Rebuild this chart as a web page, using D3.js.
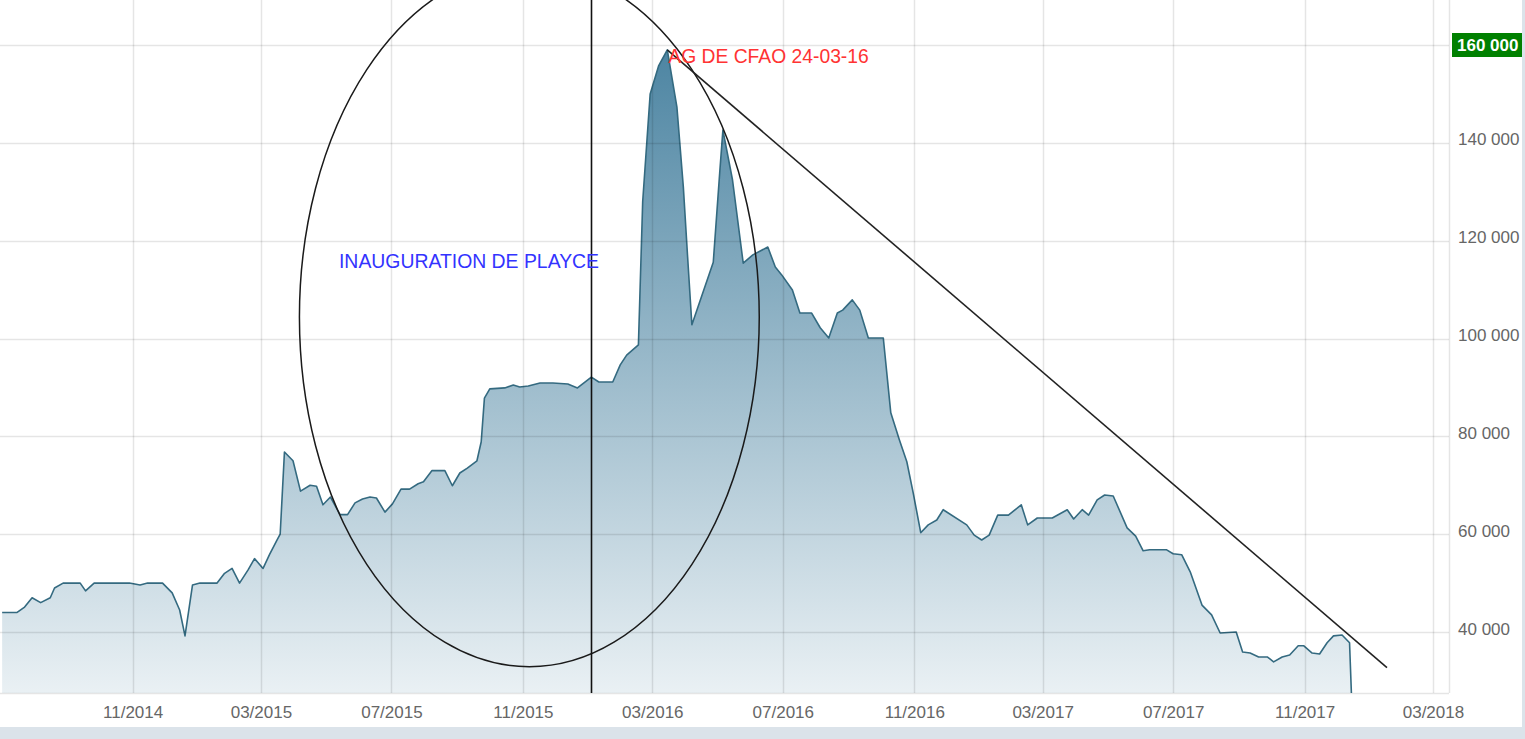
<!DOCTYPE html>
<html><head><meta charset="utf-8">
<script src="https://cdn.jsdelivr.net/npm/d3@7"></script>
<style>html,body{margin:0;padding:0;background:#dbe3ea;} svg{display:block;}</style>
</head><body><svg id="chart" width="1525" height="739"></svg>
<script>
// ---- data ----
const dates = ["2014-07-02","2014-07-16","2014-07-23","2014-07-30","2014-08-07","2014-08-16","2014-08-20","2014-08-28","2014-09-13","2014-09-18","2014-09-26","2014-10-29","2014-11-08","2014-11-15","2014-11-29","2014-12-08","2014-12-15","2014-12-20","2014-12-27","2015-01-03","2015-01-19","2015-01-26","2015-02-02","2015-02-09","2015-02-17","2015-02-23","2015-03-03","2015-03-09","2015-03-16","2015-03-19","2015-03-23","2015-03-31","2015-04-07","2015-04-16","2015-04-22","2015-04-28","2015-05-05","2015-05-14","2015-05-21","2015-05-28","2015-06-04","2015-06-11","2015-06-17","2015-06-25","2015-07-02","2015-07-10","2015-07-18","2015-07-26","2015-07-31","2015-08-08","2015-08-20","2015-08-27","2015-09-03","2015-09-10","2015-09-19","2015-09-23","2015-09-26","2015-10-01","2015-10-15","2015-10-23","2015-10-29","2015-11-06","2015-11-17","2015-11-29","2015-12-13","2015-12-22","2016-01-04","2016-01-11","2016-01-24","2016-01-31","2016-02-06","2016-02-17","2016-02-21","2016-02-28","2016-03-07","2016-03-15","2016-03-24","2016-03-30","2016-04-03","2016-04-07","2016-04-27","2016-05-03","2016-05-06","2016-05-15","2016-05-25","2016-06-03","2016-06-17","2016-06-24","2016-06-30","2016-07-10","2016-07-17","2016-07-28","2016-08-05","2016-08-13","2016-08-21","2016-08-26","2016-09-04","2016-09-11","2016-09-19","2016-10-03","2016-10-10","2016-10-18","2016-10-25","2016-10-31","2016-11-07","2016-11-14","2016-11-22","2016-11-28","2016-12-20","2016-12-27","2017-01-03","2017-01-10","2017-01-18","2017-01-28","2017-02-09","2017-02-15","2017-02-24","2017-03-10","2017-03-24","2017-03-30","2017-04-07","2017-04-13","2017-04-21","2017-04-28","2017-05-06","2017-05-19","2017-05-27","2017-06-03","2017-06-09","2017-06-25","2017-07-01","2017-07-09","2017-07-17","2017-07-28","2017-08-06","2017-08-14","2017-08-29","2017-09-04","2017-09-11","2017-09-19","2017-09-27","2017-10-03","2017-10-11","2017-10-18","2017-10-26","2017-10-31","2017-11-08","2017-11-15","2017-11-22","2017-11-28","2017-12-06","2017-12-13","2017-12-16"];
const prices = [44000,44000,45100,47000,46000,47000,49000,50000,50000,48400,50000,50000,49600,50000,50000,48000,44500,39200,49600,50000,50000,52000,53000,50000,52700,55000,53000,55800,58800,60000,76800,75000,68800,70000,69800,66000,67600,64000,64000,66400,67200,67600,67400,64500,66200,69200,69200,70300,70700,73000,73000,69900,72500,73500,75000,78900,87800,89700,89900,90500,90100,90300,90900,90900,90700,89900,92100,91100,91100,94600,96600,98700,128000,150000,155800,159000,147300,131000,116700,102800,115600,133800,142600,132400,115400,117100,118700,114600,113000,109900,105200,105200,102200,100100,105200,105800,107900,105800,100100,100100,84800,79300,74800,68400,60300,61900,62900,65000,61900,59800,58800,59800,63900,63900,66000,61900,63300,63300,65000,63100,65000,63900,67000,68000,67800,61300,59600,56600,56800,56800,56000,55800,52300,45500,43500,39800,40000,35900,35700,34900,34900,33900,34900,35300,37200,37200,35700,35500,37800,39200,39400,37800,20000];

const xTickDates = ["2014-11-01","2015-03-01","2015-07-01","2015-11-01","2016-03-01","2016-07-01","2016-11-01","2017-03-01","2017-07-01","2017-11-01","2018-03-01"];
const yTickValues = [40000,60000,80000,100000,120000,140000];
const highlightValue = 160000;
const xDomain = ["2014-06-30","2018-03-16"];
const yDomain = [27530,169200];

// annotations (in data space)
const eventDate = "2016-01-04";
const trendStart = {date:"2016-03-15", value:159000};
const trendEnd = {date:"2018-01-17", value:32700};
const ellipseCenter = {date:"2015-11-07", value:104400};
const ellipseRadiusDays = 215;
const ellipseRadiusValue = 71500;
const agLabel = {text:"AG DE CFAO 24-03-16", date:"2016-03-16", value:156300};
const inaugLabel = {text:"INAUGURATION DE PLAYCE", date:"2015-05-13", value:114400};

// ---- chart ----
const parse = d3.utcParse("%Y-%m-%d");
const data = dates.map((d,i)=>({date:parse(d), value:prices[i]}));
const W = 1525, H = 739;
const plotW = 1449, plotH = 693;
const svg = d3.select("#chart");
const font = "'Liberation Sans', Arial, sans-serif";

svg.append("rect").attr("x",0).attr("y",0).attr("width",W).attr("height",H).attr("fill","#dbe3ea");
svg.append("rect").attr("x",0).attr("y",0).attr("width",1522).attr("height",727).attr("fill","#ffffff");

const x = d3.scaleUtc().domain(xDomain.map(parse)).range([0, plotW]);
const y = d3.scaleLinear().domain(yDomain).range([plotH, 0]);

const defs = svg.append("defs");
const grad = defs.append("linearGradient").attr("id","areaGrad")
  .attr("gradientUnits","userSpaceOnUse").attr("x1",0).attr("x2",0).attr("y1",0).attr("y2",plotH);
grad.append("stop").attr("offset","0%").attr("stop-color","#3d7a9a").attr("stop-opacity",0.98);
grad.append("stop").attr("offset","100%").attr("stop-color","#3d7a9a").attr("stop-opacity",0.11);
defs.append("clipPath").attr("id","plotClip").append("rect")
  .attr("x",0).attr("y",0).attr("width",plotW).attr("height",plotH);

const plot = svg.append("g");

const area = d3.area().x(d=>x(d.date)).y0(plotH).y1(d=>y(d.value)).curve(d3.curveLinear);
const line = d3.line().x(d=>x(d.date)).y(d=>y(d.value)).curve(d3.curveLinear);
const clipped = plot.append("g").attr("clip-path","url(#plotClip)");
clipped.append("path").datum(data).attr("d",area).attr("fill","url(#areaGrad)");

// grid
const gridColor = "rgba(0,0,0,0.1)";
const grid = plot.append("g");
grid.selectAll("line.h").data(yTickValues.concat([highlightValue])).join("line")
  .attr("x1",0).attr("x2",plotW).attr("y1",d=>Math.round(y(d))+0.5).attr("y2",d=>Math.round(y(d))+0.5)
  .attr("stroke",gridColor).attr("stroke-width",1.5);
grid.selectAll("line.v").data(xTickDates.map(parse)).join("line")
  .attr("y1",0).attr("y2",plotH).attr("x1",d=>Math.round(x(d))+0.5).attr("x2",d=>Math.round(x(d))+0.5)
  .attr("stroke",gridColor).attr("stroke-width",1.5);
grid.append("line").attr("x1",plotW+0.5).attr("x2",plotW+0.5).attr("y1",0).attr("y2",plotH).attr("stroke",gridColor).attr("stroke-width",1.5);
grid.append("line").attr("x1",0).attr("x2",plotW).attr("y1",plotH+0.5).attr("y2",plotH+0.5).attr("stroke",gridColor).attr("stroke-width",1.5);

clipped.append("path").datum(data).attr("d",line).attr("fill","none")
  .attr("stroke","#346a80").attr("stroke-width",1.6).attr("stroke-linejoin","round");

// x axis labels
const xAxis = d3.axisBottom(x).tickValues(xTickDates.map(parse)).tickFormat(d3.utcFormat("%m/%Y")).tickSize(0).tickPadding(0);
const xg = svg.append("g").attr("transform",`translate(0,${plotH})`).call(xAxis);
xg.select(".domain").remove();
xg.selectAll("text").attr("y",13).attr("dy","0.71em").attr("font-family",font).attr("font-size","17px").attr("fill","#666666");

// y axis labels
const fmt = v => d3.format(",")(v).replace(/,/g," ");
const yAxis = d3.axisRight(y).tickValues(yTickValues).tickFormat(fmt).tickSize(0).tickPadding(0);
const yg = svg.append("g").attr("transform",`translate(${plotW+9},0)`).call(yAxis);
yg.select(".domain").remove();
yg.selectAll("text").attr("x",0).attr("dy","0.12em").attr("font-family",font).attr("font-size","17px").attr("fill","#666666").attr("text-anchor","start");

// highlighted 160 000 label
const hy = y(highlightValue);
svg.append("rect").attr("x",plotW+3).attr("y",hy-12).attr("width",1522-(plotW+3)).attr("height",24).attr("fill","#008000");
svg.append("text").attr("x",plotW+8).attr("y",hy).attr("dy","0.36em").attr("font-family",font).attr("font-size","17px")
  .attr("font-weight","bold").attr("fill","#ffffff").text(fmt(highlightValue));

// annotations
const ann = svg.append("g");
const ex = x(parse(ellipseCenter.date)), ey = y(ellipseCenter.value);
const erx = x(d3.utcDay.offset(parse(ellipseCenter.date), ellipseRadiusDays)) - ex;
const ery = y(ellipseCenter.value - ellipseRadiusValue) - ey;
ann.append("ellipse").attr("cx",ex).attr("cy",ey).attr("rx",erx).attr("ry",ery)
  .attr("fill","none").attr("stroke","#1a1a1a").attr("stroke-width",1.5);
const evx = Math.round(x(parse(eventDate)))+0.5;
ann.append("line").attr("x1",evx).attr("x2",evx).attr("y1",0).attr("y2",plotH).attr("stroke","#111").attr("stroke-width",1.6);
ann.append("line").attr("x1",x(parse(trendStart.date))).attr("y1",y(trendStart.value))
  .attr("x2",x(parse(trendEnd.date))).attr("y2",y(trendEnd.value)).attr("stroke","#222").attr("stroke-width",1.6);
ann.append("text").attr("x",x(parse(agLabel.date))).attr("y",y(agLabel.value))
  .attr("font-family",font).attr("font-size","19.3px").attr("fill","#ff3333").text(agLabel.text);
ann.append("text").attr("x",x(parse(inaugLabel.date))).attr("y",y(inaugLabel.value))
  .attr("font-family",font).attr("font-size","19.4px").attr("fill","#3333ff").text(inaugLabel.text);
</script></body></html>
